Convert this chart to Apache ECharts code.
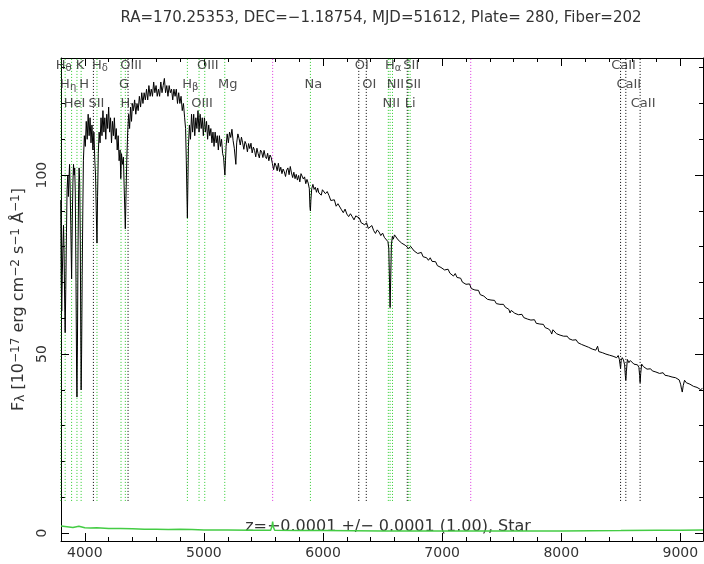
<!DOCTYPE html>
<html><head><meta charset="utf-8">
<script src="https://cdn.jsdelivr.net/npm/echarts@6/dist/echarts.min.js"></script>
<style>html,body{margin:0;padding:0;background:#fff}#c{width:704px;height:564px}</style>
</head><body><div id="c"></div>
<script>
// ---------------- DATA ----------------
const titleText = 'RA=170.25353, DEC=\u22121.18754, MJD=51612, Plate= 280, Fiber=202';
const fitText = 'z=\u22120.0001 +/\u2212 0.0001 (1.00), Star';
const xTickValues = [4000, 5000, 6000, 7000, 8000, 9000];
const xMinorTickValues = [3800,4000,4200,4400,4600,4800,5000,5200,5400,5600,5800,6000,6200,6400,6600,6800,7000,7200,7400,7600,7800,8000,8200,8400,8600,8800,9000];
const yTickValues = [0, 50, 100];
const yMinorTickValues = [0,10,20,30,40,50,60,70,80,90,100,110,120,130];

// flux [wavelength (Angstrom), F_lambda]
const specUV = [[3798,93],[3802,70],[3806,62],[3811,72],[3816,80],[3821,86],[3826,78],[3831,64],[3835,56],[3840,68],[3846,84],[3851,96],[3857,100],[3862,94],[3867,99],[3872,103],[3877,96],[3882,86],[3889,71],[3895,88],[3900,98],[3905,103],[3910,100],[3915,102],[3920,95],[3926,70],[3931,45],[3934,38],[3938,52],[3943,80],[3948,96],[3952,102],[3957,98],[3962,82],[3966,55],[3969,40],[3973,50],[3978,72],[3983,90],[3988,104],[3996,111],[4004,108],[4012,115],[4020,110],[4028,117],[4036,111],[4044,116],[4052,109],[4060,114],[4068,107],[4076,112],[4084,104],[4090,100],[4096,90],[4102,81],[4107,94],[4113,106],[4120,112],[4128,109],[4136,116],[4144,111],[4152,118],[4160,112],[4168,116],[4176,110],[4184,117],[4192,113],[4200,119],[4208,112],[4216,116],[4224,109],[4232,115],[4240,111],[4248,116],[4256,110],[4264,113],[4272,107],[4280,111],[4288,104],[4296,107],[4302,99],[4308,106],[4316,103],[4324,105],[4330,97],[4336,90],[4340,85],[4345,93],[4352,104],[4360,112],[4368,117],[4376,113],[4384,119],[4392,115],[4400,120]];
const specBlue = [[4408,118],[4418,121],[4428,117],[4438,120],[4448,118],[4458,122],[4468,119],[4478,123],[4488,120],[4498,123],[4508,121],[4518,124],[4528,121],[4538,125],[4548,122],[4558,124],[4568,122],[4578,126],[4588,123],[4598,125],[4608,122],[4618,124],[4628,122],[4638,126],[4648,123],[4658,125],[4668,127],[4678,123],[4688,125],[4698,122],[4708,125],[4718,123],[4728,124],[4738,121],[4748,124],[4758,122],[4768,124],[4778,120],[4788,123],[4798,120],[4808,122],[4818,118],[4828,120],[4838,116],[4846,113],[4852,104],[4857,95],[4861,88],[4865,97],[4870,108],[4878,114],[4887,110],[4896,117],[4905,112],[4914,117],[4923,111],[4932,116],[4941,113],[4950,118],[4959,112],[4968,117],[4977,113],[4986,116],[4995,111],[5004,116],[5013,112],[5022,115],[5031,110],[5040,114],[5049,111],[5058,113],[5067,109],[5076,112],[5085,108],[5094,112],[5103,109],[5112,111],[5121,107],[5130,111],[5139,108],[5148,110],[5157,106],[5165,105],[5171,102],[5176,100],[5181,104],[5186,108]];
const specGreen = [[5195,111.5],[5205,109],[5215,112],[5225,110.5],[5235,112.8],[5245,109.6],[5255,107.5],[5262,108],[5268,103],[5275,109],[5285,111.5],[5295,110.2],[5305,108.4],[5315,110.6],[5325,109],[5335,107.2],[5345,109.4],[5355,108.6],[5365,106.5],[5375,108.8],[5385,107.4],[5395,108.9],[5405,106.2],[5415,107.8],[5425,106.9],[5435,105.1],[5445,107.5],[5455,106],[5465,104.8],[5475,107],[5485,106.4],[5495,104.9],[5505,106.9],[5515,105.2],[5525,104.6],[5535,106.1],[5545,104],[5555,105.6],[5565,104.9],[5575,103.2],[5585,101.5],[5595,103.4],[5605,102.6],[5615,101.2],[5625,103.3],[5635,101],[5645,102.2],[5655,100.4],[5665,101.7],[5675,100.9],[5685,99.6],[5695,101.4],[5705,102],[5715,100.1],[5725,102.4],[5735,100.6],[5745,99.3],[5755,100.8],[5765,99],[5775,100.2],[5785,98.6],[5795,99.9],[5805,98.1],[5815,100.4],[5825,100.9],[5835,98.9],[5845,99.5],[5855,97.6],[5865,98.8],[5875,97.8],[5885,96.2],[5890,91],[5894,90],[5898,93],[5905,96.2],[5915,97.4],[5925,96],[5935,96.6],[5945,95.2],[5955,96.4],[5965,95],[5975,95.4],[5985,94.4],[5995,95.9],[6005,96],[6020,94.8],[6035,95.4],[6050,94.3],[6065,92.9],[6080,93],[6095,93.1],[6110,91.3],[6125,92],[6140,92.3],[6155,90.3],[6170,89.5],[6185,90.5],[6200,89.1],[6215,88.4],[6230,89.2],[6245,88.4],[6260,87.5],[6275,88.6],[6290,89.1],[6305,88],[6320,86.7],[6335,87.1],[6350,86.1],[6365,86.7],[6380,85.1],[6395,85.4],[6410,85.9],[6425,84.5],[6440,83.7],[6455,84.7],[6470,84.1],[6485,83.1],[6500,83.8],[6515,82.6],[6530,83],[6545,81.4],[6552,79.5],[6558,70],[6563,63],[6568,71],[6574,80.5],[6582,82.9],[6590,82.1],[6600,83.3],[6615,82.8],[6630,81.9],[6645,82.2],[6660,81],[6675,81.5],[6690,80.4],[6705,80.6],[6720,79.5],[6735,80.1],[6750,79.7],[6765,78.8],[6780,79.2],[6795,78.1],[6810,78.6],[6825,78.4],[6840,77.2],[6855,77.6],[6870,76.9],[6885,76.2],[6900,76.9],[6915,75.9],[6930,75.4],[6945,75.8],[6960,74.7],[6975,75.1],[6990,74.2]];
const specRed = [[7005,74.6],[7020,73.5],[7035,73.9],[7050,73.7],[7065,72.6],[7080,72.9],[7095,71.8],[7110,72.5],[7125,71.4],[7140,71],[7155,71.2],[7170,70.1],[7185,70.5],[7200,69.5],[7215,69.9],[7230,69.6],[7245,68.3],[7260,68.8],[7275,67.9],[7290,67.4],[7305,67.8],[7320,66.6],[7335,66.9],[7350,66.2],[7365,66.4],[7380,65.3],[7395,65.8],[7410,65.1],[7425,64.6],[7440,65],[7455,64.1],[7470,64.5],[7485,63.9],[7500,63.4],[7515,63.9],[7530,63.1],[7545,63.2],[7560,62.5],[7570,61.5],[7580,62.2],[7595,62.5],[7610,61.4],[7625,61.8],[7640,61],[7655,60.7],[7670,61.1],[7685,60.2],[7700,60.6],[7715,59.8],[7730,60.1],[7745,59.5],[7760,59],[7775,59.6],[7790,58.6],[7805,58.8],[7820,58.4],[7835,57.9],[7850,58.3],[7865,57.4],[7880,57.8],[7895,57],[7910,56.4],[7920,55.6],[7930,56.8],[7945,56.3],[7960,55.7],[7975,56.1],[7990,55.3],[8005,55.6],[8020,55],[8035,54.6],[8050,55],[8065,54.3],[8080,54.5],[8095,53.9],[8110,53.6],[8125,54],[8140,53.2],[8155,53.4],[8170,52.7],[8185,52.9],[8200,52.3],[8215,52.6],[8230,51.9],[8245,52],[8260,51.4],[8275,51.8],[8290,51.1],[8305,52.2],[8315,50.7],[8330,51.1],[8345,50.4],[8360,50.8],[8375,50],[8390,50.3],[8405,49.7],[8420,50.1],[8435,49.4],[8450,49.8],[8465,49],[8478,49.6],[8488,48.5],[8493,47.2],[8498,46],[8503,48.2],[8512,49],[8522,48.4],[8532,47],[8538,44],[8542,42.7],[8547,45.2],[8555,48.5],[8568,47.6],[8580,48.2],[8595,47.9],[8610,47.2],[8625,47.6],[8640,47],[8652,46.3],[8658,44],[8662,42],[8667,44.6],[8675,47.2],[8690,46.5],[8705,46.9],[8720,45.8],[8735,46.3],[8750,45.9],[8765,45.3],[8780,45.7],[8795,45],[8810,45.4],[8825,44.6],[8840,45],[8855,44.8],[8870,44.1],[8885,44.6],[8900,43.9],[8915,44.3],[8930,43.6],[8945,44],[8960,43.4],[8975,43.7],[8990,42.8],[9002,41.6],[9010,40.2],[9016,39.4],[9024,41.2],[9035,42.7],[9050,42],[9065,42.4],[9080,41.6],[9095,41.9],[9110,41],[9125,41.5],[9140,40.7],[9155,40.9],[9170,40.1],[9185,40.4]];
// error spectrum
const errorSpec = [[3800,2.0],[3850,1.8],[3900,1.6],[3950,1.9],[4000,1.5],[4050,1.4],[4100,1.5],[4200,1.3],[4300,1.3],[4400,1.2],[4500,1.1],[4600,1.1],[4700,1.0],[4800,1.1],[4900,1.0],[5000,0.9],[5200,0.9],[5400,0.8],[5560,0.8],[5572,2.0],[5577,3.2],[5582,1.8],[5594,0.8],[5800,0.7],[6000,0.7],[6500,0.6],[7000,0.6],[7500,0.6],[8000,0.6],[8500,0.7],[8800,0.8],[9000,0.8],[9190,0.9]];

// spectral line marks
const lineWaves = [3798,3835,3889,3934,3969,4072,4102,4304,4340,4363,4861,4959,5007,5175,5894,6300,6363,6548,6563,6583,6707,6716,6731,8498,8542,8662,5577,7240];
const lineNames = ['Hθ','Hη','HeI','K','H','SII','Hδ','G','Hγ','OIII','Hβ','OIII','OIII','Mg','Na','OI','OI','NII','Hα','NII','Li','SII','SII','CaII','CaII','CaII','',''];
const lineKinds = ['g','g','g','g','g','k','g','g','g','k','g','g','g','g','g','k','k','g','g','g','k','g','g','k','k','k','m','m'];
const lineTiers = [1,2,3,1,2,3,1,2,3,1,2,3,1,2,2,1,2,3,1,2,3,1,2,1,2,3,0,0];

// ---------------- CHART ----------------
const FONT = 'DejaVu Sans';
const X_MIN = 3800, X_MAX = 9190, Y_MIN = -2.2, Y_MAX = 132.7, LINE_BOTTOM = 9;
const kindColor = { g: '#2ccc2c', k: '#000000', m: '#dd33dd' };
const tierOffset = { 1: 8, 2: 27, 3: 46 };
const axisColor = '#000';
const textColor = '#333';

const chart = echarts.init(document.getElementById('c'), null, { renderer: 'canvas' });

function xAxisDef(pos, values, len, withLabel, withLine) {
  return {
    type: 'value', position: pos, min: X_MIN, max: X_MAX,
    axisLine: { show: withLine, onZero: false, lineStyle: { color: axisColor, width: 1 } },
    axisTick: { show: true, inside: true, length: len, customValues: values, lineStyle: { color: axisColor, width: 1 } },
    axisLabel: withLabel ? { show: true, customValues: values, formatter: v => String(v), color: textColor, fontSize: 14, fontFamily: FONT, margin: 5 } : { show: false },
    splitLine: { show: false }
  };
}
function yAxisDef(pos, values, len, withLabel, withLine, extra) {
  return Object.assign({
    type: 'value', position: pos, min: Y_MIN, max: Y_MAX,
    axisLine: { show: withLine, onZero: false, lineStyle: { color: axisColor, width: 1 } },
    axisTick: { show: true, inside: true, length: len, customValues: values, lineStyle: { color: axisColor, width: 1 } },
    axisLabel: withLabel ? { show: true, customValues: values, formatter: v => String(v), rotate: 90, color: textColor, fontSize: 14, fontFamily: FONT, margin: 12 } : { show: false },
    splitLine: { show: false }
  }, extra || {});
}

const nameStr = '{n|F}{sub|λ}{n| [10}{sup|−17}{n| erg cm}{sup|−2}{n| s}{sup|−1}{n| Å}{sup|−1}{n|]}';

const series = [];
lineWaves.forEach((w, i) => {
  series.push({
    type: 'line', xAxisIndex: 0, yAxisIndex: 0, silent: true, symbol: 'none', animation: false,
    data: [[w, LINE_BOTTOM], [w, Y_MAX]],
    lineStyle: { color: kindColor[lineKinds[i]], width: 1, type: [1, 2] }, z: 1
  });
});
series.push({
  type: 'line', name: 'error', silent: true, symbol: 'none', animation: false,
  data: errorSpec, lineStyle: { color: '#44cc44', width: 1.5 }, z: 2
});
series.push({
  type: 'line', name: 'flux', silent: true, symbol: 'none', animation: false, sampling: null,
  data: specUV.concat(specBlue, specGreen, specRed), lineStyle: { color: '#000', width: 1 }, z: 3
});
[1, 2, 3].forEach(tier => {
  const items = [];
  lineWaves.forEach((w, i) => {
    if (!lineNames[i] || lineTiers[i] !== tier) return;
    items.push([w, Y_MAX, lineNames[i]]);
  });
  series.push({
    type: 'scatter', silent: true, animation: false, clip: false, symbolSize: 0,
    itemStyle: { color: 'rgba(0,0,0,0)' }, data: items, z: 5,
    label: {
      show: true, position: 'inside', offset: [3, tierOffset[tier]], color: '#222', fontFamily: FONT,
      formatter: p => {
        const nm = p.data[2];
        const m = nm.match(/^H([α-ω])$/);
        return m ? '{n|H}{s|' + m[1] + '}' : '{n|' + nm + '}';
      },
      rich: {
        n: { fontSize: 13, fontFamily: FONT, color: '#222', lineHeight: 15 },
        s: { fontSize: 10, fontFamily: FONT, color: '#222', lineHeight: 4, verticalAlign: 'bottom' }
      }
    }
  });
});

const option = {
  backgroundColor: '#fff',
  animation: false,
  title: {
    text: titleText, left: 376, top: 6, textAlign: 'center',
    textStyle: { fontSize: 15, fontWeight: 'normal', color: textColor, fontFamily: FONT }
  },
  grid: { left: 61, right: 1, top: 58, bottom: 23, containLabel: false },
  xAxis: [
    xAxisDef('bottom', xTickValues, 8, true, true),
    xAxisDef('bottom', xMinorTickValues, 4, false, false),
    xAxisDef('top', xTickValues, 8, false, true),
    xAxisDef('top', xMinorTickValues, 4, false, false)
  ],
  yAxis: [
    yAxisDef('left', yTickValues, 8, true, true, {
      name: nameStr, nameLocation: 'middle', nameGap: 27, nameRotate: 90,
      nameTextStyle: {
        color: textColor, fontFamily: FONT,
        rich: {
          n: { fontSize: 16, fontFamily: FONT, color: textColor, lineHeight: 17 },
          sup: { fontSize: 12, fontFamily: FONT, color: textColor, lineHeight: 4, verticalAlign: 'top' },
          sub: { fontSize: 12, fontFamily: FONT, color: textColor, lineHeight: 4, verticalAlign: 'bottom' }
        }
      }
    }),
    yAxisDef('left', yMinorTickValues, 4, false, false),
    yAxisDef('right', yTickValues, 8, false, true),
    yAxisDef('right', yMinorTickValues, 4, false, false)
  ],
  graphic: [{
    type: 'text', silent: true, x: 388, y: 527,
    style: { text: fitText, fill: textColor, font: '16px "DejaVu Sans"', textAlign: 'center', textVerticalAlign: 'middle' }
  }],
  series: series
};
chart.setOption(option);
</script></body></html>
